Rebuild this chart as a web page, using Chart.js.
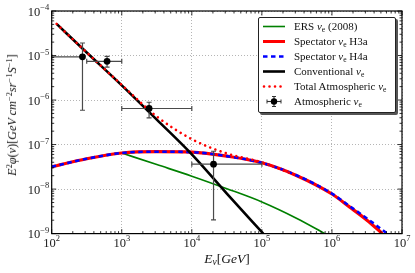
<!DOCTYPE html>
<html><head><meta charset="utf-8">
<script src="https://cdn.jsdelivr.net/npm/chart.js@4/dist/chart.umd.min.js"></script>
<style>
html,body{margin:0;padding:0;background:#fff;}
#wrap{position:relative;width:415px;height:273px;overflow:hidden;font-family:"Liberation Serif","DejaVu Serif",serif;color:#111;}
canvas{position:absolute;left:0;top:0;}
sup{font-size:0.7em;line-height:0;vertical-align:0.45em;}
sub{font-size:0.7em;line-height:0;vertical-align:-0.25em;}
#xtitle{position:absolute;left:227px;top:259px;transform:translate(-50%,-50%);font-size:13.5px;white-space:nowrap;line-height:14px;}
#ytitle{position:absolute;left:12px;top:115px;transform:translate(-50%,-50%) rotate(-90deg);font-size:12.2px;white-space:nowrap;line-height:14px;}
#legend{position:absolute;left:258px;top:17px;width:136px;height:94px;border:1px solid #222;border-radius:2px;background:#fff;box-shadow:2px 2px 0 #555;}
.row{position:absolute;left:0;height:15px;width:136px;}
.row svg{position:absolute;left:3px;top:0;}
.row span{position:absolute;left:35px;top:0;line-height:15px;font-size:11px;white-space:nowrap;}
</style></head><body>
<div id="wrap">
<canvas id="c" width="415" height="273"></canvas>
<div id="xtitle"><i>E<sub>ν</sub></i>[<i>GeV</i>]</div>
<div id="ytitle"><i>E</i><sup>2</sup><i>φ</i>(<i>ν</i>)[<i>GeV cm</i><sup>−2</sup><i>sr</i><sup>−1</sup><i>S</i><sup>−1</sup>]</div>
<div id="legend">
 <div class="row" style="top:0.5px"><svg width="26" height="15"><line x1="1" y1="7.5" x2="23" y2="7.5" stroke="#008000" stroke-width="1.6"/></svg><span>ERS <i>ν</i><sub>e</sub> (2008)</span></div>
 <div class="row" style="top:15.5px"><svg width="26" height="15"><line x1="1" y1="7.5" x2="23" y2="7.5" stroke="#ff0000" stroke-width="3"/></svg><span>Spectator <i>ν</i><sub>e</sub> H3a</span></div>
 <div class="row" style="top:30.5px"><svg width="26" height="15"><line x1="1" y1="7.5" x2="23" y2="7.5" stroke="#0000ff" stroke-width="2.6" stroke-dasharray="4.5 3.5"/></svg><span>Spectator <i>ν</i><sub>e</sub> H4a</span></div>
 <div class="row" style="top:45.5px"><svg width="26" height="15"><line x1="1" y1="7.5" x2="23" y2="7.5" stroke="#000" stroke-width="2.6"/></svg><span>Conventional <i>ν</i><sub>e</sub></span></div>
 <div class="row" style="top:60.5px"><svg width="26" height="15"><line x1="2" y1="7.5" x2="23" y2="7.5" stroke="#ff0000" stroke-width="2.6" stroke-linecap="round" stroke-dasharray="0.01 5.5"/></svg><span>Total Atmospheric <i>ν</i><sub>e</sub></span></div>
 <div class="row" style="top:75.5px"><svg width="26" height="15"><line x1="5" y1="7.5" x2="19" y2="7.5" stroke="#333" stroke-width="1.1"/><line x1="12" y1="2.5" x2="12" y2="12.5" stroke="#333" stroke-width="1.1"/><line x1="10" y1="2.5" x2="14" y2="2.5" stroke="#333" stroke-width="1"/><line x1="10" y1="12.5" x2="14" y2="12.5" stroke="#333" stroke-width="1"/><line x1="5" y1="5.5" x2="5" y2="9.5" stroke="#333" stroke-width="1"/><line x1="19" y1="5.5" x2="19" y2="9.5" stroke="#333" stroke-width="1"/><circle cx="12" cy="7.5" r="3.2" fill="#000"/></svg><span>Atmospheric <i>ν</i><sub>e</sub></span></div>
</div>
</div>
<script>
// ---- data ----
const xTickValues = [1e2, 1e3, 1e4, 1e5, 1e6, 1e7];
const xTickExponents = ['2', '3', '4', '5', '6', '7'];
const yTickValues = [1e-9, 1e-8, 1e-7, 1e-6, 1e-5, 1e-4];
const yTickExponents = ['−9', '−8', '−7', '−6', '−5', '−4'];

const ersEnergy = [1000, 3162, 10000, 31623, 100000, 316230, 794000];
const ersFlux = [6.46e-8, 3.55e-8, 1.95e-8, 1.02e-8, 5.13e-9, 2.19e-9, 1.0e-9];

const spectatorH3aEnergy = [100, 316, 1000, 3162, 10000, 31623, 100000, 316230, 1000000, 1778000, 3162300, 5250000];
const spectatorH3aFlux = [3.16e-8, 4.79e-8, 6.46e-8, 6.92e-8, 6.76e-8, 5.50e-8, 3.89e-8, 2.0e-8, 7.76e-9, 3.98e-9, 2.0e-9, 1.0e-9];

const spectatorH4aEnergy = [100, 316, 1000, 3162, 10000, 31623, 100000, 316230, 1000000, 1778000, 3162300, 6170000];
const spectatorH4aFlux = [3.16e-8, 4.79e-8, 6.46e-8, 6.92e-8, 6.76e-8, 5.50e-8, 3.89e-8, 2.02e-8, 7.9e-9, 4.17e-9, 2.19e-9, 1.0e-9];

const conventionalEnergy = [117.5, 316, 1000, 3162, 10000, 31623, 104700];
const conventionalFlux = [5.13e-5, 1.17e-5, 2.14e-6, 3.63e-7, 6.03e-8, 7.94e-9, 1.0e-9];

const totalEnergy = [117.5, 316, 1000, 3162, 10000, 31623, 100000, 316230];
const totalFlux = [5.13e-5, 1.17e-5, 2.19e-6, 4.27e-7, 1.32e-7, 6.31e-8, 3.98e-8, 2.0e-8];

const pointEnergy = [275, 617, 2455, 20417];
const pointFlux = [9.33e-6, 7.41e-6, 6.46e-7, 3.63e-8];
const pointEnergyLow = [100, 316, 1000, 10000];
const pointEnergyHigh = [290, 1000, 10000, 100000];
const pointFluxHigh = [1.91e-5, 9.55e-6, 8.91e-7, 7.08e-8];
const pointFluxLow = [5.89e-7, 5.50e-6, 3.98e-7, 2.04e-9];

const pairs = (xs, ys) => xs.map((x, i) => ({x: x, y: ys[i]}));

const errorBarPlugin = {
  id: 'errorBars',
  beforeDatasetDraw(chart, args) {
    if (args.meta.label !== 'Atmospheric') return;
    const xs = chart.scales.x, ys = chart.scales.y, ctx = chart.ctx;
    ctx.save();
    ctx.strokeStyle = '#4a4a4a';
    ctx.lineWidth = 1.2;
    const cap = 2.5;
    for (let i = 0; i < pointEnergy.length; i++) {
      const px = xs.getPixelForValue(pointEnergy[i]);
      const py = ys.getPixelForValue(pointFlux[i]);
      const xl = xs.getPixelForValue(pointEnergyLow[i]);
      const xh = xs.getPixelForValue(pointEnergyHigh[i]);
      const yt = ys.getPixelForValue(pointFluxHigh[i]);
      const yb = ys.getPixelForValue(pointFluxLow[i]);
      ctx.beginPath();
      ctx.moveTo(xl, py); ctx.lineTo(xh, py);
      ctx.moveTo(xl, py - cap); ctx.lineTo(xl, py + cap);
      ctx.moveTo(xh, py - cap); ctx.lineTo(xh, py + cap);
      ctx.moveTo(px, yt); ctx.lineTo(px, yb);
      ctx.moveTo(px - cap, yt); ctx.lineTo(px + cap, yt);
      ctx.moveTo(px - cap, yb); ctx.lineTo(px + cap, yb);
      ctx.stroke();
    }
    ctx.restore();
  }
};

const framePlugin = {
  id: 'frame',
  afterDraw(chart) {
    const ctx = chart.ctx, a = chart.chartArea;
    const xs = chart.scales.x, ys = chart.scales.y;
    ctx.save();
    ctx.strokeStyle = '#000';
    ctx.lineWidth = 1.2;
    ctx.strokeRect(a.left, a.top, a.right - a.left, a.bottom - a.top);
    ctx.lineWidth = 0.8;
    ctx.beginPath();
    const major = 4.5, minor = 2.5;
    for (let d = 2; d <= 7; d++) {
      for (let m = 1; m <= 9; m++) {
        const v = m * Math.pow(10, d);
        if (v > 1e7 * 1.0001) break;
        const px = xs.getPixelForValue(v);
        const len = m === 1 ? major : minor;
        ctx.moveTo(px, a.bottom); ctx.lineTo(px, a.bottom - len);
        ctx.moveTo(px, a.top); ctx.lineTo(px, a.top + len);
      }
    }
    for (let d = -9; d <= -4; d++) {
      for (let m = 1; m <= 9; m++) {
        const v = m * Math.pow(10, d);
        if (v > 1e-4 * 1.0001) break;
        const py = ys.getPixelForValue(v);
        const len = m === 1 ? major : minor;
        ctx.moveTo(a.left, py); ctx.lineTo(a.left + len, py);
        ctx.moveTo(a.right, py); ctx.lineTo(a.right - len, py);
      }
    }
    ctx.stroke();
    ctx.fillStyle = '#222';
    const base = '12.5px "Liberation Serif", serif';
    const expo = '8.5px "Liberation Serif", serif';
    ctx.textBaseline = 'alphabetic';
    xTickValues.forEach((v, i) => {
      const px = xs.getPixelForValue(v);
      ctx.font = base; const wb = ctx.measureText('10').width;
      ctx.font = expo; const we = ctx.measureText(xTickExponents[i]).width;
      const x0 = px - (wb + we) / 2;
      ctx.font = base; ctx.textAlign = 'left';
      ctx.fillText('10', x0, a.bottom + 13);
      ctx.font = expo;
      ctx.fillText(xTickExponents[i], x0 + wb, a.bottom + 7);
    });
    yTickValues.forEach((v, i) => {
      const py = ys.getPixelForValue(v);
      ctx.font = expo; const we = ctx.measureText(yTickExponents[i]).width;
      ctx.textAlign = 'right';
      const right = a.left - 2.5;
      ctx.fillText(yTickExponents[i], right, py - 1);
      ctx.font = base;
      ctx.fillText('10', right - we, py + 4.5);
    });
    ctx.restore();
  }
};

new Chart(document.getElementById('c'), {
  type: 'line',
  data: {
    datasets: [
      {label: 'Atmospheric', data: pairs(pointEnergy, pointFlux), showLine: false, pointRadius: 3.4, pointBackgroundColor: '#000', pointBorderColor: '#000', pointBorderWidth: 0, order: 0},
      {label: 'Total', data: pairs(totalEnergy, totalFlux), borderColor: '#ff0000', borderWidth: 2.6, borderDash: [0.01, 5.5], borderCapStyle: 'round', pointRadius: 0, cubicInterpolationMode: 'monotone', fill: false, order: 1},
      {label: 'Conventional', data: pairs(conventionalEnergy, conventionalFlux), borderColor: '#000', borderWidth: 2.6, pointRadius: 0, cubicInterpolationMode: 'monotone', fill: false, order: 2},
      {label: 'H4a', data: pairs(spectatorH4aEnergy, spectatorH4aFlux), borderColor: '#0000ff', borderWidth: 2.6, borderDash: [4.5, 3.5], pointRadius: 0, cubicInterpolationMode: 'monotone', fill: false, order: 3},
      {label: 'H3a', data: pairs(spectatorH3aEnergy, spectatorH3aFlux), borderColor: '#ff0000', borderWidth: 3.2, pointRadius: 0, cubicInterpolationMode: 'monotone', fill: false, order: 4},
      {label: 'ERS', data: pairs(ersEnergy, ersFlux), borderColor: '#008000', borderWidth: 1.6, pointRadius: 0, cubicInterpolationMode: 'monotone', fill: false, order: 5}
    ]
  },
  options: {
    responsive: false,
    animation: false,
    events: [],
    layout: {padding: {left: 0, top: 11, right: 13, bottom: 0}},
    plugins: {legend: {display: false}, tooltip: {enabled: false}},
    scales: {
      x: {
        type: 'logarithmic', min: 100, max: 1e7,
        afterBuildTicks: s => { s.ticks = xTickValues.map(v => ({value: v})); },
        afterFit: s => { s.height = 39.4; },
        ticks: {display: false},
        grid: {color: '#b5b5b5', lineWidth: 1, drawTicks: false},
        border: {display: false, dash: [1, 2]}
      },
      y: {
        type: 'logarithmic', min: 1e-9, max: 1e-4,
        afterBuildTicks: s => { s.ticks = yTickValues.map(v => ({value: v})); },
        afterFit: s => { s.width = 51.7; },
        ticks: {display: false},
        grid: {color: '#b5b5b5', lineWidth: 1, drawTicks: false},
        border: {display: false, dash: [1, 2]}
      }
    }
  },
  plugins: [errorBarPlugin, framePlugin]
});
</script>
</body></html>
